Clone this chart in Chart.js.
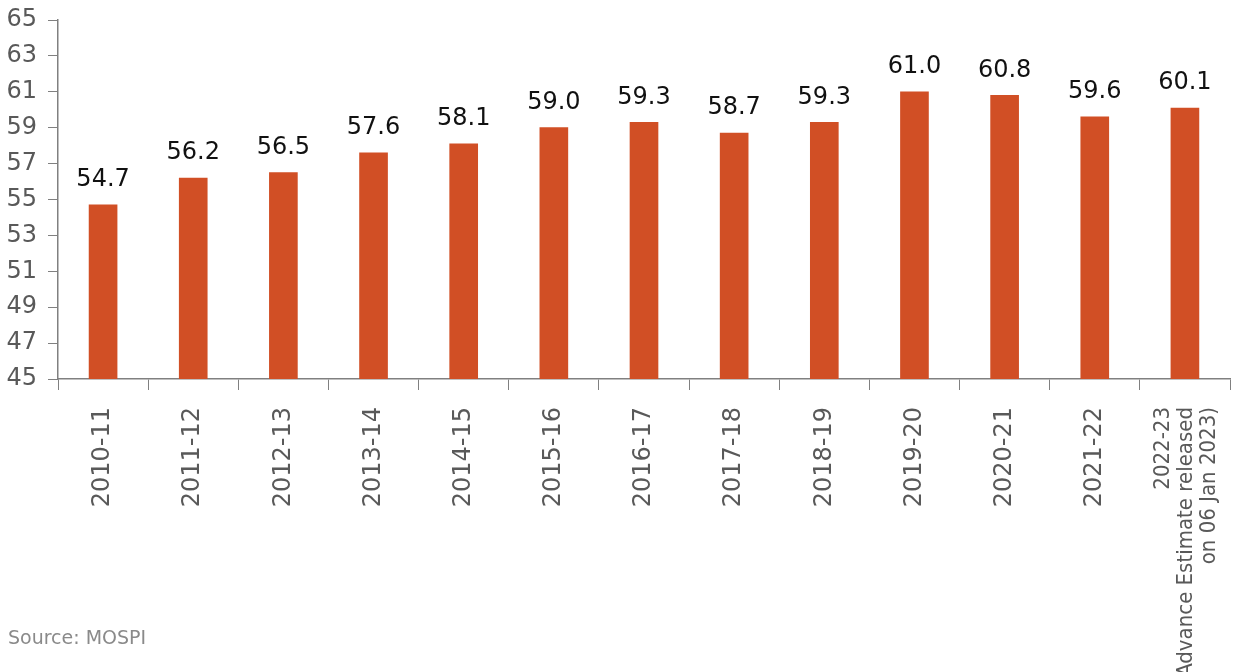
<!DOCTYPE html>
<html>
<head>
<meta charset="utf-8">
<script src="https://cdn.jsdelivr.net/npm/chart.js@4.4.0/dist/chart.umd.min.js"></script>
<style>
  html, body { margin: 0; padding: 0; background: #fff; }
  #wrap { position: relative; width: 1234px; height: 672px; overflow: hidden; }
  #source { position: absolute; left: 8px; top: 626px; font: 19px "DejaVu Sans", sans-serif; color: #8a8a8a; }
</style>
</head>
<body>
<div id="wrap">
  <canvas id="chart" width="1234" height="672"></canvas>
  <div id="source">Source: MOSPI</div>
</div>
<script>
const years = ['2010-11', '2011-12', '2012-13', '2013-14', '2014-15', '2015-16', '2016-17',
  '2017-18', '2018-19', '2019-20', '2020-21', '2021-22',
  ['2022-23', '(Advance Estimate released', 'on 06 Jan 2023)']];
const values = [54.7, 56.2, 56.5, 57.6, 58.1, 59.0, 59.3, 58.7, 59.3, 61.0, 60.8, 59.6, 60.1];
const yMin = 45;
const yMax = 65;
const yStep = 2;

const barColor = '#D14F25';
const axisColor = '#808080';
const tickColor = '#595959';

// value labels above bars
const valueLabels = {
  id: 'valueLabels',
  afterDatasetsDraw(chart) {
    const ctx = chart.ctx;
    const meta = chart.getDatasetMeta(0);
    ctx.save();
    ctx.font = '24px "DejaVu Sans"';
    ctx.fillStyle = '#111';
    ctx.textAlign = 'center';
    ctx.textBaseline = 'middle';
    meta.data.forEach((bar, i) => {
      ctx.fillText(values[i].toFixed(1), bar.x, bar.y - 25);
    });
    ctx.restore();
  }
};

// move the 3-line last label so the block sits around its tick
const centerLastLabel = {
  id: 'centerLastLabel',
  beforeDraw(chart) {
    const items = chart.scales.x.getLabelItems();
    const last = items[items.length - 1];
    if (last && !last._moved) {
      last.options.translation[0] -= 22;
      last._moved = true;
    }
  }
};

new Chart(document.getElementById('chart'), {
  type: 'bar',
  data: {
    labels: years,
    datasets: [{
      data: values,
      backgroundColor: barColor,
      barThickness: 28
    }]
  },
  options: {
    responsive: false,
    animation: false,
    devicePixelRatio: 1,
    layout: { padding: { top: 20, right: 4, left: 0, bottom: 0 } },
    plugins: {
      legend: { display: false },
      tooltip: { enabled: false }
    },
    scales: {
      x: {
        grid: { drawOnChartArea: false, drawTicks: true, tickLength: 11, color: axisColor },
        border: { display: true, color: axisColor, width: 1.5 },
        ticks: {
          autoSkip: false,
          minRotation: 90,
          maxRotation: 90,
          padding: 17,
          color: tickColor,
          font: (c) => c.index === 12
            ? { family: 'DejaVu Sans Condensed', size: 22, lineHeight: 1.05 }
            : { family: 'DejaVu Sans', size: 24 }
        },
        afterFit: (scale) => {
          scale.height = 293;
          scale.paddingLeft = 0;
          scale.paddingRight = 0;
        }
      },
      y: {
        min: yMin,
        max: yMax,
        grid: { drawOnChartArea: false, drawTicks: true, tickLength: 10, color: axisColor },
        border: { display: true, color: axisColor, width: 1.5 },
        ticks: {
          stepSize: yStep,
          padding: 11,
          color: tickColor,
          font: { family: 'DejaVu Sans', size: 24 }
        },
        afterFit: (scale) => {
          scale.width = 58;
          scale.paddingTop = 0;
          scale.paddingBottom = 0;
        }
      }
    }
  },
  plugins: [valueLabels, centerLastLabel]
});
</script>
</body>
</html>
